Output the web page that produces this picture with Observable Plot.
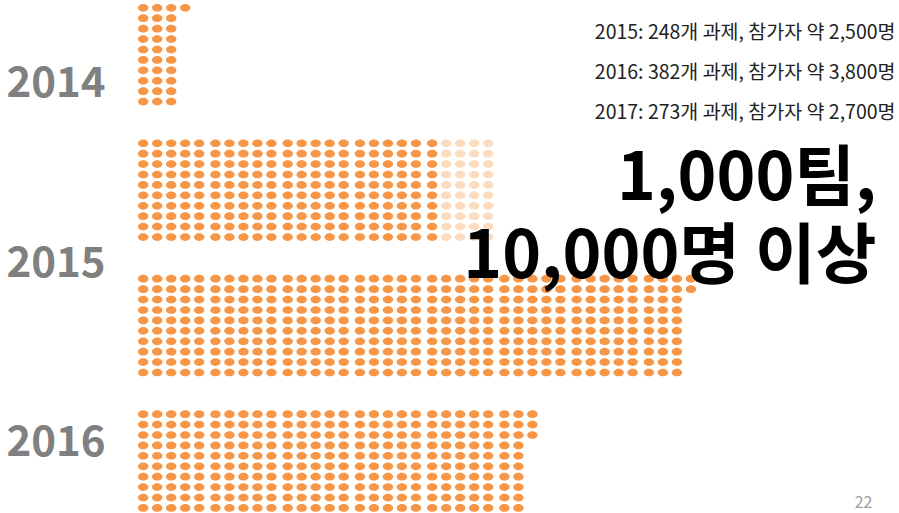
<!DOCTYPE html>
<html><head><meta charset="utf-8">
<script src="https://cdn.jsdelivr.net/npm/d3@7"></script>
<script src="https://cdn.jsdelivr.net/npm/@observablehq/plot@0.6"></script>
<style>
html,body{margin:0;padding:0;background:#fff;overflow:hidden}
#chart svg{display:block}
</style>
</head><body><div id="chart"></div>
<script>
// ---- data ----
const blockNames = ["2014", "2015", "2016", "2017"];
const blockDots = [31, 250, 382, 273];
const blockFaded = [0, 40, 0, 0];
const yearLabels = ["2014", "2015", "2016"];
const infoLines = [
  "2015: 248개 과제, 참가자 약 2,500명",
  "2016: 382개 과제, 참가자 약 3,800명",
  "2017: 273개 과제, 참가자 약 2,700명"
];
const headline = ["1,000팀,", "10,000명 이상"];
const pageNumber = "22";

// ---- layout ----
const ROWS = 10, BLOCK_STEP = 13, GROUP = 5, GROUP_GAP = 0.16;
const FONT = "'Noto Sans CJK KR', 'Noto Sans', sans-serif";

const dots = [];
blockNames.forEach((name, b) => {
  const n = blockDots[b], faded = blockFaded[b];
  for (let j = 0; j < n; j++) {
    const c = Math.floor(j / ROWS);
    dots.push({
      block: name,
      col: c + Math.floor(c / GROUP) * GROUP_GAP,
      row: BLOCK_STEP * b + (j % ROWS),
      tone: j >= n - faded ? "light" : "dark"
    });
  }
});

// ellipse-shaped symbol
const ellipse = {
  draw(ctx, size) {
    const r = Math.sqrt(size / Math.PI);
    const rx = r, ry = r * 0.74, k = 0.5523;
    ctx.moveTo(rx, 0);
    ctx.bezierCurveTo(rx, k * ry, k * rx, ry, 0, ry);
    ctx.bezierCurveTo(-k * rx, ry, -rx, k * ry, -rx, 0);
    ctx.bezierCurveTo(-rx, -k * ry, -k * rx, -ry, 0, -ry);
    ctx.bezierCurveTo(k * rx, -ry, rx, -k * ry, rx, 0);
    ctx.closePath();
  }
};

function label(text, x, y, opts) {
  return Plot.text([text], Object.assign({
    text: d => d, frameAnchor: "top-left", dx: x, dy: y,
    lineAnchor: "bottom", fontFamily: FONT
  }, opts));
}

const yearBaselines = [96.7, 276.7, 455];
const infoBaselines = [38.5, 78.5, 118.5];

const marks = [
  Plot.dot(dots, {x: "col", y: "row", fill: "tone", r: 5.2, symbol: ellipse}),
  ...yearLabels.map((t, i) => label(t, 6, yearBaselines[i], {textAnchor: "start", fontSize: 42, fontWeight: "bold", fill: "#808080"})),
  ...infoLines.map((t, i) => label(t, 895, infoBaselines[i], {textAnchor: "end", fontSize: 19.5, fill: "#222"})),
  label(headline.join("\n"), 876, 277, {textAnchor: "end", fontSize: 66, lineHeight: 1.167, fontWeight: "bold", fill: "#000"}),
  label(pageNumber, 872, 507, {textAnchor: "end", fontSize: 16, fill: "#a0a0a0"})
];

const chart = Plot.plot({
  width: 899, height: 513,
  margin: 0,
  style: {background: "#fff", fontFamily: FONT},
  x: {type: "linear", domain: [0, 1], range: [142.7, 156.7], axis: null},
  y: {type: "linear", domain: [0, 1], range: [7.3, 17.72], axis: null},
  color: {domain: ["dark", "light"], range: ["#F79646", "#FCDBBE"]},
  marks
});
document.getElementById("chart").appendChild(chart);
</script>
</body></html>
